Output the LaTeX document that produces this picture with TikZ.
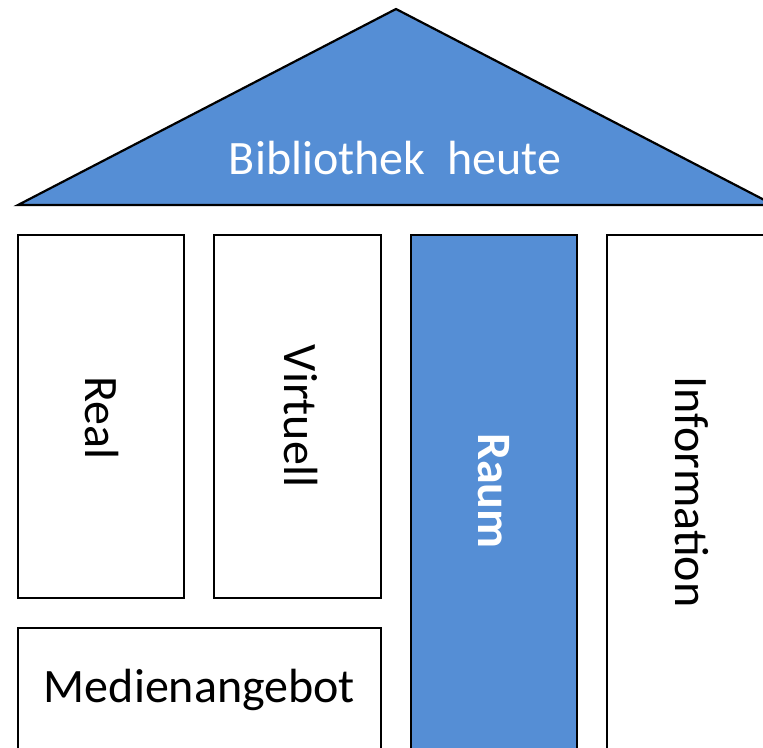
\documentclass[tikz,border=0pt]{standalone}
\usepackage{fontspec}
\setmainfont{Carlito}
\definecolor{roofblue}{RGB}{85,142,213}
\begin{document}
\begin{tikzpicture}[x=1pt,y=-1pt,
  outline/.style={draw=black,line width=2.2pt},
  pillar/.style={outline,fill=white},
  bluepillar/.style={outline,fill=roofblue},
  lbl/.style={font=\fontsize{48}{58}\selectfont,inner sep=0pt},
]
\useasboundingbox (0,0) rectangle (763,747);
\begin{scope}
\clip (0,0) rectangle (763,747);
\draw[outline,fill=roofblue,line join=miter] (18,205) -- (396,9) -- (774,205) -- cycle;
\node[lbl,text=white] (roof) at (395,158) {Bibliothek\ \ heute};
\draw[pillar] (18,235) rectangle (184,598);
\node[lbl,rotate=-90] (real) at (102,418) {Real};
\draw[pillar] (214,235) rectangle (381,598);
\node[lbl,rotate=-90] (virt) at (301,416) {Virtuell};
\draw[bluepillar] (411,235) rectangle (577,760);
\node[lbl,rotate=-90,text=white,font=\fontsize{48}{58}\selectfont\bfseries] (raum) at (494,491) {Raum};
\draw[pillar] (607,235) rectangle (780,760);
\node[lbl,rotate=-90] (info) at (692,492) {Information};
\draw[pillar] (18,628) rectangle (381,760);
\node[lbl] (medien) at (199.5,690) {Medienangebot};
\end{scope}
\end{tikzpicture}
\end{document}
